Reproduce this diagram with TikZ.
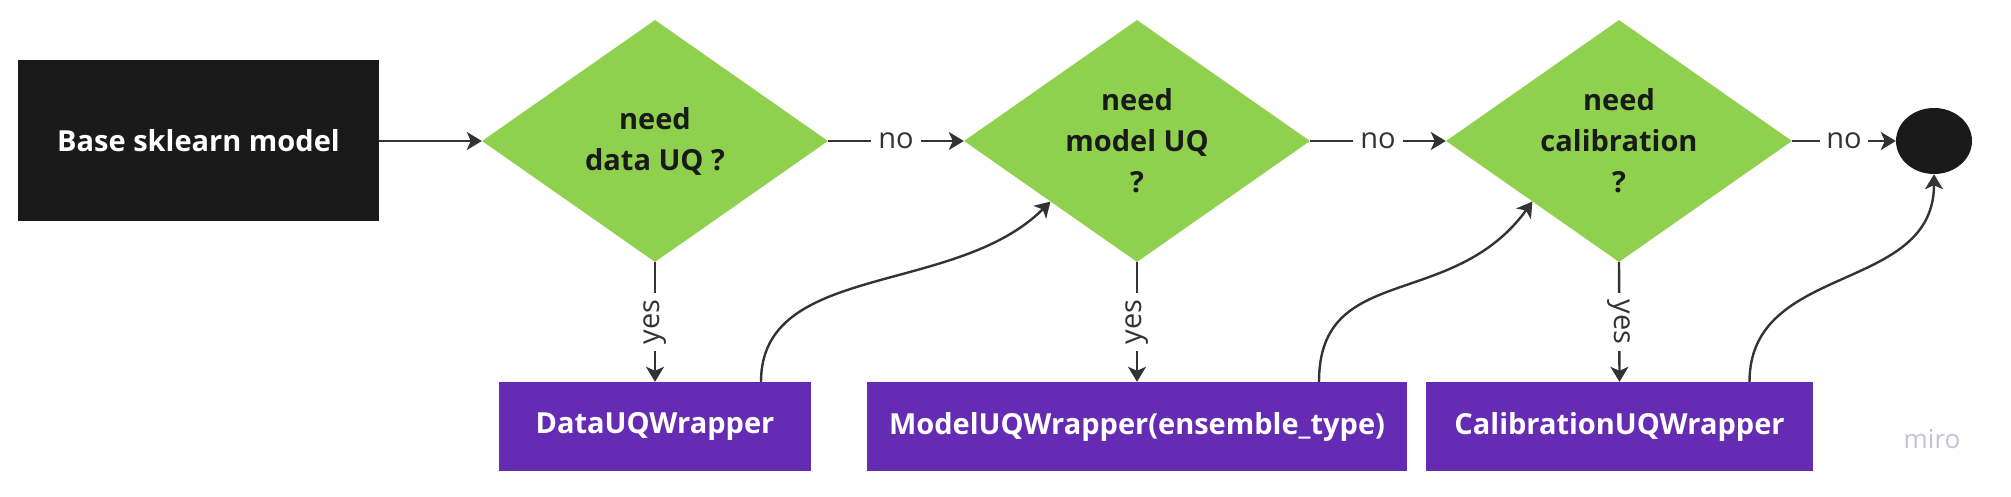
\documentclass[tikz,border=0pt]{standalone}
\usepackage{fontspec}
\setmainfont{Open Sans}
\usetikzlibrary{shapes.geometric,arrows.meta}
\definecolor{dk}{HTML}{1A1A1A}
\definecolor{grn}{HTML}{8FD14F}
\definecolor{prp}{HTML}{652CB3}
\definecolor{ln}{HTML}{333333}
\definecolor{wm}{HTML}{C4C3D3}
\begin{document}
\begin{tikzpicture}[x=1pt,y=-1pt,
  bigfont/.style={font=\fontsize{29}{41}\selectfont\bfseries},
  lblfont/.style={font=\fontsize{29}{32}\selectfont},
  startbox/.style={rectangle, fill=dk, text=white, bigfont, minimum width=361pt, minimum height=161pt, inner sep=0pt},
  decision/.style={diamond, fill=grn, minimum width=346pt, minimum height=242pt, inner sep=0pt},
  qtext/.style={bigfont, text=dk, align=center, inner sep=0pt},
  wrapbox/.style={rectangle, fill=prp, text=white, bigfont, minimum height=89pt, inner sep=0pt},
  endnode/.style={ellipse, fill=dk, minimum width=76pt, minimum height=66pt, inner sep=0pt},
  conn/.style={draw=ln, line width=2.4pt, -{Stealth[length=15pt,width=18pt,inset=4pt]}},
  lbl/.style={lblfont, text=ln, fill=white, inner xsep=7pt, inner ysep=1pt},
]
\useasboundingbox (0,0) rectangle (2011,497);
\fill[white] (0,0) rectangle (2011,497);

\node[startbox] (base) at (198.5,141) {Base sklearn model};

\node[decision] (d1) at (655,141) {};
\node[qtext] (t1) at (d1.center) {need\\data UQ ?};
\node[decision] (d2) at (1137,141) {};
\node[qtext] (t2) at (d2.center) {need\\model UQ\\?};
\node[decision] (d3) at (1619,141) {};
\node[qtext] (t3) at (d3.center) {need\\calibration\\?};

\node[endnode] (end) at (1934,141) {};

\node[wrapbox, minimum width=312pt] (data) at (655,426.5) {DataUQWrapper};
\node[wrapbox, minimum width=540pt] (model) at (1137,426.5) {ModelUQWrapper(ensemble\_type)};
\node[wrapbox, minimum width=387pt] (calib) at (1619.5,426.5) {CalibrationUQWrapper};

\node[font=\fontsize{26}{30}\selectfont, text=wm] (miro) at (1932,439) {miro};

\draw[conn] (base.east) -- (d1.west);
\draw[conn] (d1.east) -- node[lbl] {no} (d2.west);
\draw[conn] (d2.east) -- node[lbl] {no} (d3.west);
\draw[conn] (d3.east) -- node[lbl, inner xsep=6pt] {no} (end.west);

\draw[conn] (d1.south) -- node[lbl, rotate=90] {yes} (data.north);
\draw[conn] (d2.south) -- node[lbl, rotate=90] {yes} (model.north);
\draw[conn] (d3.south) -- node[lbl, rotate=-90] {yes} (calib.north);

\draw[conn] ([xshift=106pt]data.north) .. controls +(0,-120) and +(-95,95) .. (d2.south west);
\draw[conn] ([xshift=182pt]model.north) .. controls +(0,-120) and +(-80,110) .. (d3.south west);
\draw[conn] ([xshift=130pt]calib.north) .. controls +(0,-120) and +(0,120) .. (end.south);
\end{tikzpicture}
\end{document}
